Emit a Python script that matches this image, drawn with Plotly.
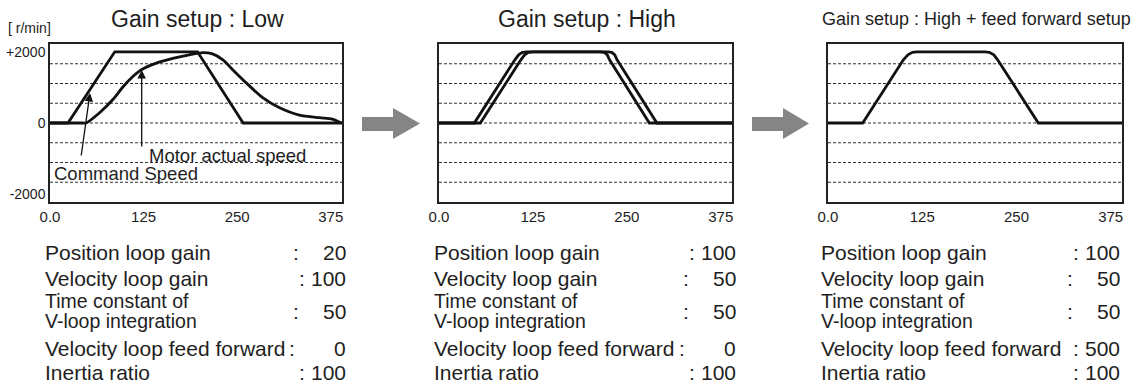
import plotly.graph_objects as go

W, H = 1137, 388

# ---------------- data (time in ms, speed in r/min) ----------------
t_cmd_low = [0, 24, 86.5, 197, 258, 390]
v_cmd_low = [0, 0, 2000, 2000, 0, 0]
t_act_low = [0, 44, 48, 66.6, 84.3, 97.6, 111, 122, 142, 164, 186, 204, 217, 231,
             244, 262, 284, 306, 333, 360, 377, 389]
v_act_low = [0, 0, 0, 296, 666, 1018, 1313, 1498, 1683, 1813, 1915, 1979, 1943, 1776,
             1498, 1128, 712, 435, 222, 148, 111, 0]

t_cmd_high = [0, 47, 101, 106, 111, 117, 215, 220, 224, 227, 280, 390]
v_cmd_high = [0, 0, 1776, 1915, 1985, 2000, 2000, 1985, 1915, 1776, 0, 0]
t_act_high = [0, 55, 109, 114, 119, 125, 225, 230, 234, 237, 290, 390]
v_act_high = [0, 0, 1776, 1915, 1985, 2000, 2000, 1985, 1915, 1776, 0, 0]

t_ff = [0, 46, 100, 106, 112, 118, 208, 214, 220, 225, 279, 390]
v_ff = [0, 0, 1776, 1915, 1985, 2000, 2000, 1985, 1915, 1776, 0, 0]

x_tickvals = [0, 125, 250, 375]
x_ticktext = ["0.0", "125", "250", "375"]
y_tickvals = [2000, 0, -2000]
y_ticktext = ["+2000", "0", "-2000"]
grid_vals = [-1665, -1110, -555, 0, 555, 1110, 1665]

titles = ["Gain setup : Low", "Gain setup : High", "Gain setup : High + feed forward setup"]

param_labels = ["Position loop gain", "Velocity loop gain",
                ["Time constant of", "V-loop integration"],
                "Velocity loop feed forward", "Inertia ratio"]
values_low = [20, 100, 50, 0, 100]
values_high = [100, 50, 50, 0, 100]
values_ff = [100, 50, 50, 500, 100]

# ---------------- layout helpers ----------------
def px(x):
    return x / W

def py(y):
    return 1 - y / H

boxes = [(50, 342), (439, 732), (828, 1122)]
box_top, box_bot = 44, 202
REG = "Liberation Sans, Arial, sans-serif"
TXT = "#1e1e1e"
LINE = "#111111"

fig = go.Figure()

series = [
    (1, t_cmd_low, v_cmd_low, "Command Speed", "linear"),
    (1, t_act_low, v_act_low, "Motor actual speed", "spline"),
    (2, t_cmd_high, v_cmd_high, "Command Speed", "linear"),
    (2, t_act_high, v_act_high, "Motor actual speed", "linear"),
    (3, t_ff, v_ff, "Motor actual speed", "linear"),
]
for i, tx, vy, name, shape in series:
    suf = "" if i == 1 else str(i)
    fig.add_trace(go.Scatter(
        x=tx, y=vy, mode="lines", name=name, showlegend=False,
        line=dict(color=LINE, width=2.8, shape=shape, smoothing=0.7),
        xaxis="x" + suf, yaxis="y" + suf, cliponaxis=True))

shapes = []
annotations = []
for i, (x0, x1) in enumerate(boxes, start=1):
    suf = "" if i == 1 else str(i)
    xa = dict(domain=[px(x0), px(x1)], range=[0, 390], anchor="y" + suf,
              automargin=False,
              showgrid=False, zeroline=False, showline=True, mirror=True,
              linecolor="#222", linewidth=1.5, ticks="",
              tickmode="array", tickvals=x_tickvals, ticktext=x_ticktext,
              tickfont=dict(family=REG, size=15, color=TXT), fixedrange=True)
    ya = dict(domain=[py(box_bot), py(box_top)], range=[-2220, 2220], anchor="x" + suf,
              automargin=False,
              showgrid=False, zeroline=False, showline=True, mirror=True,
              linecolor="#222", linewidth=1.5, ticks="", fixedrange=True,
              tickmode="array", tickvals=y_tickvals if i == 1 else [],
              ticktext=y_ticktext if i == 1 else [],
              showticklabels=(i == 1),
              tickfont=dict(family=REG, size=14, color=TXT))
    fig.update_layout(**{"xaxis" + suf: xa, "yaxis" + suf: ya})
    for g in grid_vals:
        shapes.append(dict(type="line", xref=("x" + suf + " domain"), yref="y" + suf,
                           x0=0, x1=1, y0=g, y1=g, layer="below",
                           line=dict(color="#333", width=1, dash="3px,2px")))

# titles
title_x = [197, 587, 976]
for k, (tt, cx) in enumerate(zip(titles, title_x)):
    size = 18 if k == 2 else 23
    annotations.append(dict(text=tt, x=px(cx), y=py(19), xref="paper", yref="paper",
                            xanchor="center", yanchor="middle", showarrow=False,
                            font=dict(family=REG, size=size, color=TXT)))

# unit label
annotations.append(dict(text="[ r/min]", x=px(29), y=py(28), xref="paper", yref="paper",
                        xanchor="center", yanchor="middle", showarrow=False,
                        font=dict(family=REG, size=14, color=TXT)))

# labels inside chart 1
annotations.append(dict(text="Motor actual speed", x=px(147), y=py(155), xref="paper",
                        yref="paper", xanchor="left", yanchor="middle", showarrow=False,
                        font=dict(family=REG, size=18.5, color=TXT)))
annotations.append(dict(text="Command Speed", x=px(52), y=py(173), xref="paper",
                        yref="paper", xanchor="left", yanchor="middle", showarrow=False,
                        font=dict(family=REG, size=18.5, color=TXT)))
# pointer arrows
annotations.append(dict(text="", x=px(90), y=py(93), xref="paper", yref="paper",
                        ax=-9, ay=64, showarrow=True, arrowhead=2, arrowsize=1.3,
                        arrowwidth=1.3, arrowcolor="#111"))
annotations.append(dict(text="", x=px(141.7), y=py(70), xref="paper", yref="paper",
                        ax=0, ay=78, showarrow=True, arrowhead=2, arrowsize=1.3,
                        arrowwidth=1.3, arrowcolor="#111"))

# block arrows between charts
for (a0, ah, at) in [(362, 393, 420), (752, 783, 809)]:
    pts = [(a0, 117), (ah, 117), (ah, 108), (at, 123.5), (ah, 139), (ah, 131), (a0, 131)]
    path = "M " + " L ".join(f"{px(x):.5f},{py(y):.5f}" for x, y in pts) + " Z"
    shapes.append(dict(type="path", path=path, xref="paper", yref="paper",
                       fillcolor="#858585", line=dict(width=0)))

# parameter tables
tables = [(42.7, 348.0, values_low), (431.7, 738.3, values_high), (819.3, 1121.7, values_ff)]
row_y = [252, 278, 311, 348, 372]
sub_y = [300.5, 321]
colon_off = {1: 56, 2: 52, 3: 46}
body_font = dict(family=REG, size=21, color=TXT)
sub_font = dict(family=REG, size=19.5, color=TXT)
for lx, rx, vals in tables:
    for lab, yy, val in zip(param_labels, row_y, vals):
        if isinstance(lab, list):
            for s, sy in zip(lab, sub_y):
                annotations.append(dict(text=s, x=px(lx), y=py(sy), xref="paper",
                                        yref="paper", xanchor="left", yanchor="middle",
                                        showarrow=False, font=sub_font))
        else:
            annotations.append(dict(text=lab, x=px(lx), y=py(yy), xref="paper",
                                    yref="paper", xanchor="left", yanchor="middle",
                                    showarrow=False, font=body_font))
        sval = str(val)
        annotations.append(dict(text=":", x=px(rx - colon_off[len(sval)]), y=py(yy),
                                xref="paper", yref="paper", xanchor="center",
                                yanchor="middle", showarrow=False, font=body_font))
        annotations.append(dict(text=sval, x=px(rx), y=py(yy), xref="paper",
                                yref="paper", xanchor="right", yanchor="middle",
                                showarrow=False, font=body_font))

fig.update_layout(width=W, height=H, margin=dict(l=0, r=0, t=0, b=0, autoexpand=False),
                  paper_bgcolor="white", plot_bgcolor="white",
                  shapes=shapes, annotations=annotations, showlegend=False)

fig.write_html("out.html", config={"displayModeBar": False},
               post_script="document.body.style.margin='0';document.body.style.overflow='hidden';")
